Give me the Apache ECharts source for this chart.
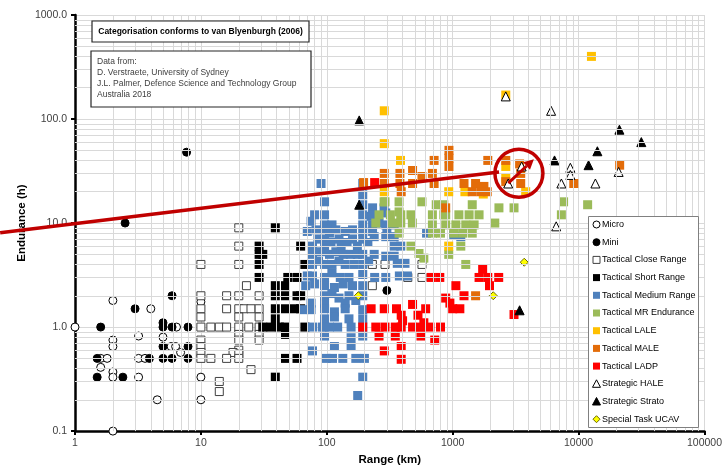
<!DOCTYPE html>
<html>
<head>
<meta charset="utf-8">
<script src="https://cdn.jsdelivr.net/npm/echarts@6/dist/echarts.min.js"></script>
<style>
  html, body { margin: 0; padding: 0; background: #fff; }
  #main { width: 725px; height: 471px; }
</style>
</head>
<body>
<div id="main"></div>
<script>
// [range km, endurance h]
var micro = [[1,1],[2,1.8],[4,1.5],[2,0.75],[2,0.65],[3.2,0.82],[5,0.8],[6.4,1],[5.8,0.65],[6.3,0.65],[6.9,0.57],
  [1.6,0.5],[1.8,0.5],[1.6,0.41],[2,0.37],[2,0.33],[3.2,0.5],[3.6,0.5],[3.2,0.33],[4.5,0.2],[10,1.75],[10,0.33],[10,0.2],[2,0.1]];
var mini = [[1.6,1],[1.5,0.5],[1.5,0.33],[2.4,0.33],[3,1.5],[3.9,0.5],[5,0.5],[5.9,0.5],[7.9,0.5],[5.9,2],[5,1.1],[5,1],
  [5.9,1],[7.9,1],[5,0.65],[7.9,0.65],[7.7,48],[2.5,10],[300,2.25]];
var closeRange = [[10,4],[20,4],[20,9],[20,6],[23,2.5],[10,2],[16,2],[20,2],[29,2],[10,1.5],[16,1.5],[20,1.5],[22,1.5],[25,1.5],
  [29,1.5],[10,1.25],[20,1.25],[29,1.25],[10,1],[12,1],[14,1],[16,1],[20,1],[24,1],[29,1],[20,0.85],[29,0.85],[10,0.75],[20,0.75],
  [29,0.75],[10,0.65],[20,0.6],[10,0.57],[18,0.57],[20,0.55],[10,0.5],[12,0.5],[16,0.5],[20,0.5],[25,0.39],[14,0.3],[14,0.24],
  [230,4],[290,4],[570,4],[440,3],[570,3],[230,2.5]];
var shortRange = [[39,9],[29,6],[31,5],[29,4],[62,6],[67,4],[29,3],[49,3],[58,3],[39,2.5],[47,2.5],[39,2],[47,2],[58,2],[62,2],
  [39,1.5],[47,1.5],[55,1.5],[62,1.5],[39,1.2],[31,1],[36,1],[42,1],[47,1],[67,1],[47,0.85],[47,0.5],[58,0.5],[39,0.33],[29,5]];
var mediumRange = [[90,24],[193,24],[96,16],[193,18.7],[193,15],[231,14],[225,11.6],[80,12],[96,12],[193,12],[231,12],[294,12.5],[285,14],
  [75,10.4],[96,9.6],[110,9.6],[193,9.6],[231,9.6],[294,9.6],[343,9.6],[260,10],
  [70,8.3],[82,8.6],[96,8.6],[105,8],[118,8.6],[140,8.3],[160,8.6],[193,8.3],[231,8.3],[300,8],[620,8],[1020,7.7],[1160,7.4],
  [77,6],[85,7],[96,7],[108,6.5],[125,7],[145,6.5],[160,7],[175,6],[193,7],[238,7.4],[294,7.4],[343,7.4],[343,6],[387,6],[96,6],[130,6],[212,6.5],
  [77,5],[90,5.3],[105,5],[118,5.3],[135,5],[155,5],[175,5],[193,5],[238,5],[294,4.8],[343,4.8],
  [77,4],[86,4.3],[96,4],[110,4],[125,4.3],[140,4],[165,4],[193,4],[215,4.3],[363,4.1],[418,4.1],
  [70,3.1],[77,3.1],[96,3],[110,3.3],[128,3],[150,3],[193,3.2],[240,3],[294,3],[377,3.1],[437,3.1],
  [68,2.5],[80,2.6],[96,2.5],[115,2.4],[135,2.6],[160,2.5],[193,2.5],
  [75,1.7],[96,2],[110,2.1],[125,1.9],[150,2],[170,1.8],[193,2],[96,1.7],[140,1.7],
  [66,1.47],[75,1.47],[96,1.5],[115,1.4],[140,1.5],[193,1.47],[115,1.25],[150,1.2],[193,1.2],[96,1.2],
  [77,1],[92,1],[105,1],[122,1],[156,1],[193,1],
  [96,0.82],[156,0.79],[193,0.82],[115,0.65],[156,0.65],[77,0.59],[99,0.5],[111,0.5],[134,0.5],[170,0.5],[199,0.5],[193,0.33],[176,0.22]];
var mrEndurance = [[285,16],[375,16],[570,16],[290,16],[740,15],[850,15],[1430,15],[2330,14],[3070,14],[7600,16],[11800,15],[7300,12],
  [260,12],[320,12],[387,12],[466,12],[690,12],[880,12],[1120,12],[1350,12],[1620,12],
  [245,10],[333,10],[387,10],[478,10],[690,9.6],[880,9.6],[1060,9.6],[1270,9.6],[1480,9.6],[2160,10],
  [375,8],[690,8],[800,8],[1020,8],[1200,8],[1430,8],
  [466,6],[540,5.1],[590,4.6],[930,5],[1160,6],[1270,4],[375,12.8],[850,12]];
var lale = [[12650,400],[2640,170],[286,120],[286,58],[385,40],[2640,35],[2640,27],[286,20],[930,20],[1250,20],[1750,19],[3800,20],[930,6]];
var male = [[934,50],[934,42],[934,35],[712,40],[480,32],[286,30],[381,30],[570,28],[690,30],[480,24],[712,24],[286,24],[381,24],
  [390,20],[880,14],[1230,24],[1520,24],[1770,22.5],[1680,20],[1880,20],[1430,20],[1900,40],[2640,40],[3400,37],[3470,30],
  [2640,25],[3470,24],[9160,24],[21200,36],[196,24.5],[1520,2]];
var ladp = [[240,24.5],[675,3],[790,3],[1060,2.5],[1730,3.6],[1620,3],[1900,3],[1960,2.5],[2320,3],[1230,2],[880,1.9],[950,1.7],
  [1000,1.5],[1140,1.5],[480,1.65],[225,1.5],[286,1.5],[358,1.5],[390,1.3],[400,1.15],[530,1.3],[610,1.5],[590,1.1],
  [193,1],[245,1],[290,1],[350,1],[390,1],[480,1],[560,1],[660,1],[800,1],[260,0.82],[350,0.82],[560,0.82],[720,0.75],
  [286,0.59],[390,0.65],[390,0.49],[3070,1.32]];
var hale = [[2640,165],[6050,120],[3530,35],[2760,24],[8600,34],[8600,29],[7300,24],[13600,24],[20800,31],[6640,9.3]];
var strato = [[6440,40],[12000,36],[14100,49],[21100,79],[31500,60],[181,15],[181,97],[3400,1.45]];
var ucav = [[178,2],[2100,2],[3700,4.2]];

var categories = ['Micro', 'Mini', 'Tactical Close Range', 'Tactical Short Range', 'Tactical Medium Range',
  'Tactical MR Endurance', 'Tactical LALE', 'Tactical MALE', 'Tactical LADP', 'Strategic HALE',
  'Strategic Strato', 'Special Task UCAV'];

// annotation: trend line, circle and arrow, in data units
var trendLine = [[0.2545, 8.06], [2333, 31]];
var circleAt = [3358, 30.1];
var arrowLine = [[2763, 24.2], [4416, 41.1]];

var xTicks = [1, 10, 100, 1000, 10000, 100000];
var yTicks = [0.1, 1, 10, 100, 1000];

var FONT = '"Liberation Sans", Arial, sans-serif';
var GRID = '#D9D9D9';

// marker look per category: symbol, size, fill, border, border width
var looks = [
  ['circle', 8, '#fff', '#000', 1],
  ['circle', 8, '#000', '#000', 1],
  ['rect', 8, '#fff', '#404040', 1],
  ['rect', 9, '#000', '#000', 0],
  ['rect', 9, '#4F81BD', '#4F81BD', 0],
  ['rect', 9, '#9BBB59', '#9BBB59', 0],
  ['rect', 9, '#FFC000', '#FFC000', 0],
  ['rect', 9, '#E36C09', '#E36C09', 0],
  ['rect', 9, '#FF0000', '#FF0000', 0],
  ['triangle', 9, '#fff', '#000', 1],
  ['triangle', 9, '#000', '#000', 1],
  ['diamond', 8, '#FFFF00', '#6B6B00', 1]
];
var seriesData = [micro, mini, closeRange, shortRange, mediumRange, mrEndurance, lale, male, ladp, hale, strato, ucav];

// minor grid lines at 2..9 of each decade
var vLines = [], hLines = [];
xTicks.slice(0, -1).forEach(function (d) {
  for (var k = 2; k <= 9; k++) vLines.push({ xAxis: d * k });
});
yTicks.slice(0, -1).forEach(function (d) {
  for (var k = 2; k <= 9; k++) hLines.push({ yAxis: +(d * k).toPrecision(3) });
});

var series = [{
  type: 'scatter', data: [], silent: true, z: 1,
  markLine: {
    silent: true, symbol: 'none', animation: false,
    label: { show: false },
    lineStyle: { color: GRID, width: 1, type: 'solid' },
    data: vLines.concat(hLines)
  }
}];
categories.forEach(function (name, i) {
  var l = looks[i];
  series.push({
    name: name, type: 'scatter', data: seriesData[i], symbol: l[0], symbolSize: l[1], clip: false,
    itemStyle: { color: l[2], borderColor: l[3], borderWidth: l[4], opacity: 1 },
    emphasis: { disabled: true }, z: 3
  });
});

var chart = echarts.init(document.getElementById('main'));
chart.setOption({
  animation: false,
  grid: { left: 75, right: 19, top: 15, bottom: 39 },
  xAxis: {
    type: 'log', logBase: 10, min: 1, max: 100000, splitNumber: 5,
    name: 'Range (km)', nameLocation: 'middle', nameGap: 22,
    nameTextStyle: { fontFamily: FONT, fontWeight: 'bold', fontSize: 11.5, color: '#000' },
    axisLine: { lineStyle: { color: '#000', width: 2.5 } },
    axisTick: { length: 4, lineStyle: { color: '#000', width: 2 } },
    axisLabel: { fontFamily: FONT, fontSize: 10.5, color: '#404040', margin: 7,
      formatter: function (v) { return String(Math.round(v)); } },
    splitLine: { lineStyle: { color: GRID, width: 1 } }
  },
  yAxis: {
    type: 'log', logBase: 10, min: 0.1, max: 1000, splitNumber: 4,
    name: 'Endurance (h)', nameLocation: 'middle', nameGap: 47, nameRotate: 90, nameMoveOverlap: false,
    nameTextStyle: { fontFamily: FONT, fontWeight: 'bold', fontSize: 11.5, color: '#000' },
    axisLine: { show: true, lineStyle: { color: '#000', width: 2.5 } },
    axisTick: { show: true, length: 4, lineStyle: { color: '#000', width: 2 } },
    axisLabel: { fontFamily: FONT, fontSize: 10.5, color: '#404040', margin: 8,
      formatter: function (v) { return (+v).toFixed(1); } },
    splitLine: { lineStyle: { color: GRID, width: 1 } }
  },
  series: series
});

// annotations placed through the axes
var toPx = function (p) { return chart.convertToPixel({ gridIndex: 0 }, p); };
var a = toPx(trendLine[0]), b = toPx(trendLine[1]);
var c = toPx(circleAt);
var s = toPx(arrowLine[0]), e = toPx(arrowLine[1]);
var dx = e[0] - s[0], dy = e[1] - s[1], len = Math.sqrt(dx * dx + dy * dy);
var ux = dx / len, uy = dy / len, head = 10, half = 5;
var base = [e[0] - ux * head, e[1] - uy * head];
var RED = '#C00000';

var graphics = [
  { type: 'line', z: 100, shape: { x1: a[0], y1: a[1], x2: b[0], y2: b[1] }, style: { stroke: RED, lineWidth: 3.5 } },
  { type: 'circle', z: 100, shape: { cx: c[0], cy: c[1], r: 24 }, style: { fill: null, stroke: RED, lineWidth: 3.5 } },
  { type: 'line', z: 100, shape: { x1: s[0], y1: s[1], x2: base[0], y2: base[1] }, style: { stroke: RED, lineWidth: 3 } },
  { type: 'polygon', z: 100, shape: { points: [e, [base[0] - uy * half, base[1] + ux * half], [base[0] + uy * half, base[1] - ux * half]] },
    style: { fill: RED } },
  { type: 'rect', z: 90, shape: { x: 92, y: 21, width: 217, height: 21 }, style: { fill: '#fff', stroke: '#262626', lineWidth: 1.2 } },
  { type: 'text', z: 91, x: 200.5, y: 32, style: { text: 'Categorisation conforms to van Blyenburgh (2006)',
    fontFamily: FONT, fontSize: 8.5, fontWeight: 'bold', fill: '#000', align: 'center', verticalAlign: 'middle' } },
  { type: 'rect', z: 90, shape: { x: 91, y: 51, width: 220, height: 56 }, style: { fill: '#fff', stroke: '#262626', lineWidth: 1.2 } }
];
['Data from:', 'D. Verstraete, University of Sydney', 'J.L. Palmer, Defence Science and Technology Group', 'Australia 2018']
  .forEach(function (t, i) {
    graphics.push({ type: 'text', z: 91, x: 97, y: 62 + i * 11,
      style: { text: t, fontFamily: FONT, fontSize: 8.5, fill: '#404040', verticalAlign: 'middle' } });
  });

// legend box
var LX = 588.5, LY = 216.5, LW = 110, LH = 211, ROW = 17.7;
graphics.push({ type: 'rect', z: 95, shape: { x: LX, y: LY, width: LW, height: LH },
  style: { fill: '#fff', stroke: '#808080', lineWidth: 1 } });
categories.forEach(function (name, i) {
  var l = looks[i], cx = LX + 8, cy = LY + 8 + i * ROW, h = 3.5;
  var st = { fill: l[2], stroke: l[4] ? l[3] : null, lineWidth: l[4] };
  var icon;
  if (l[0] === 'circle') icon = { type: 'circle', shape: { cx: cx, cy: cy, r: h } };
  else if (l[0] === 'rect') icon = { type: 'rect', shape: { x: cx - h, y: cy - h, width: 2 * h, height: 2 * h } };
  else if (l[0] === 'triangle') icon = { type: 'polygon', shape: { points: [[cx, cy - h - 0.5], [cx + h + 0.5, cy + h], [cx - h - 0.5, cy + h]] } };
  else icon = { type: 'polygon', shape: { points: [[cx, cy - h], [cx + h, cy], [cx, cy + h], [cx - h, cy]] } };
  icon.z = 96; icon.style = st;
  graphics.push(icon);
  graphics.push({ type: 'text', z: 96, x: cx + 5.5, y: cy,
    style: { text: name, fontFamily: FONT, fontSize: 9, fill: '#000', verticalAlign: 'middle' } });
});

chart.setOption({ graphic: graphics });
</script>
</body>
</html>
